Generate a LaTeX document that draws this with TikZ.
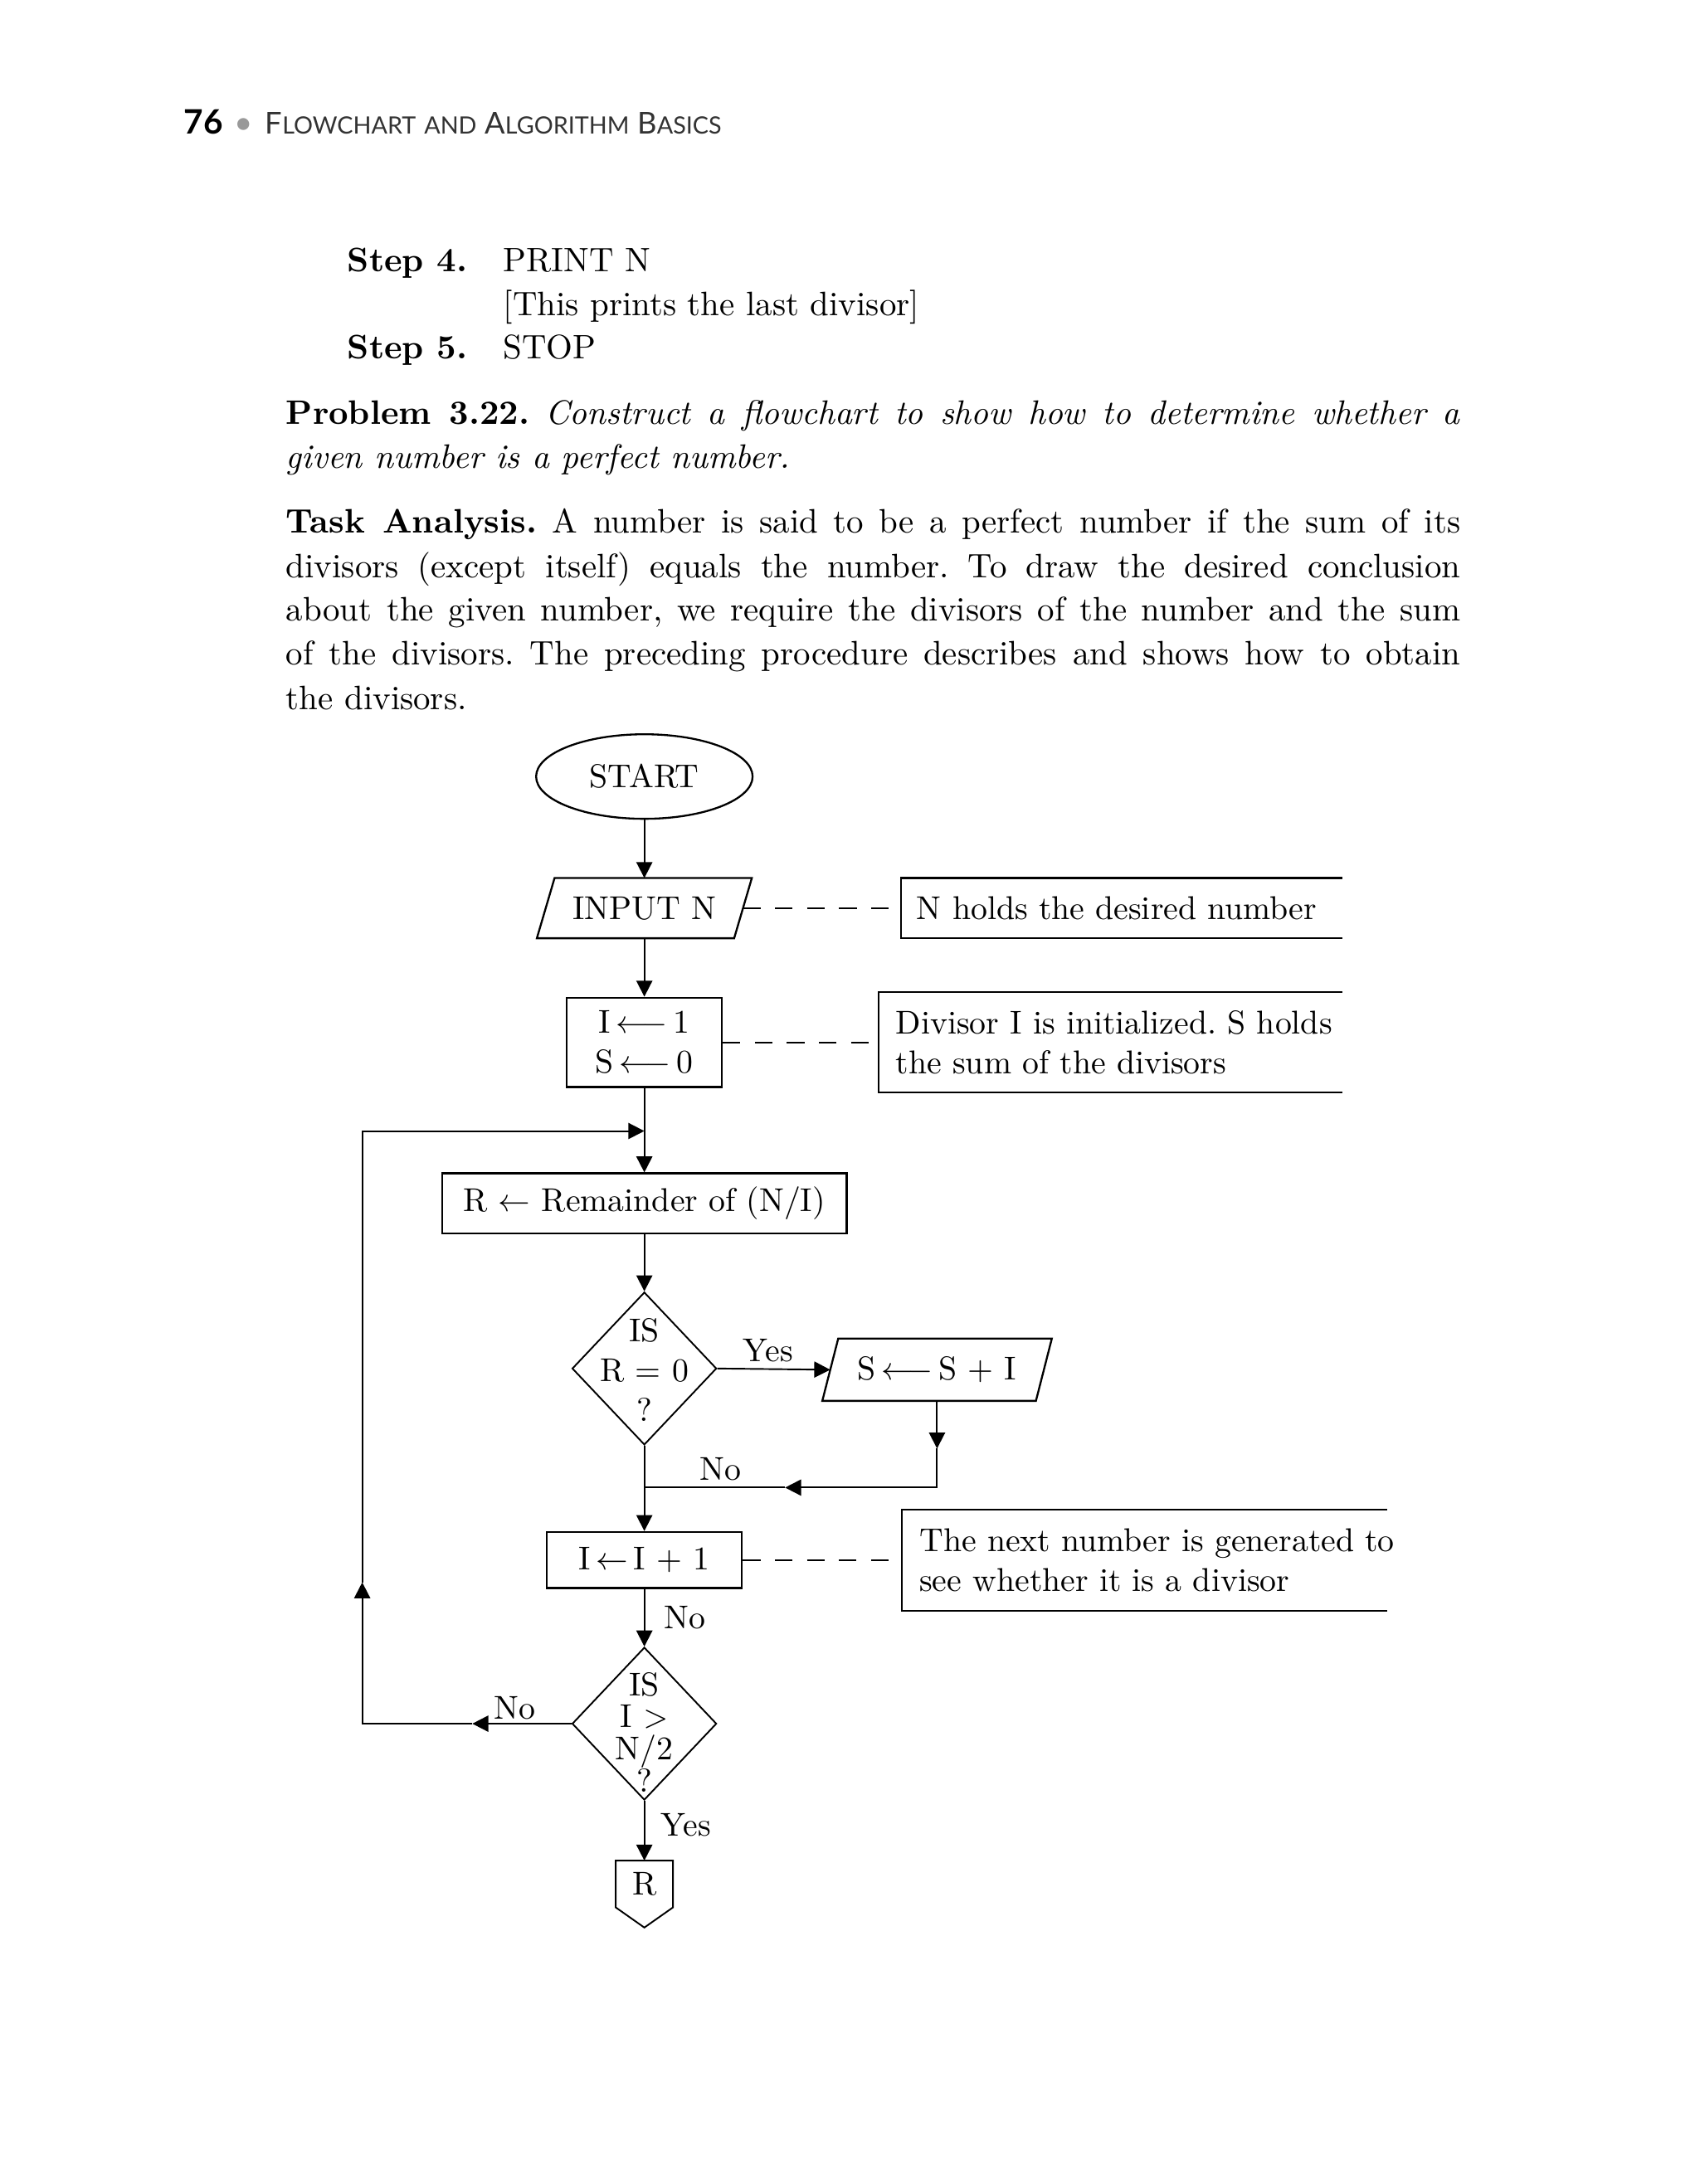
\documentclass[tikz,border=0pt]{standalone}
\usepackage{fontspec}
\newfontfamily\headfont{Lato}
\usetikzlibrary{shapes.geometric,arrows.meta}

\tikzset{
  flow/.style={font=\fontsize{10.3}{12.5}\selectfont},
  body/.style={font=\fontsize{10.6}{13.7}\selectfont, inner sep=0pt, anchor=base west},
  box/.style={draw, line width=0.6pt, inner sep=0pt, flow},
  arr/.style={-{Triangle[length=5pt,width=5pt]}, line width=0.5pt},
  link/.style={line width=0.5pt},
  note/.style={dash pattern=on 5.5pt off 4.5pt, line width=0.5pt},
  lbl/.style={flow, inner sep=0pt}
}
\newcommand{\fullline}[1]{\makebox[366.7pt][s]{#1}}
\newcommand{\headsc}[2]{{\fontsize{9.4}{11}\selectfont #1}{\fontsize{7.45}{9}\selectfont #2}}

\begin{document}
\frenchspacing
\begin{tikzpicture}[x=0.435pt, y=-0.435pt]
    \useasboundingbox (0,0) rectangle (1220,1568);
    \fill[white] (0,0) rectangle (1220,1568);

    % Running head
    \node[body, font=\headfont\bfseries\fontsize{10.5}{12}\selectfont] (pagenum) at (131.6,96.2) {76};
    \node[anchor=base, inner sep=0pt, text=black!40, font=\headfont\fontsize{10}{12}\selectfont] (headdot) at (174.7,96.2) {\textbullet};
    \node[anchor=base west, inner sep=0pt, text=black!80, font=\headfont] (runhead) at (190,96.2)
        {\headsc{F}{LOWCHART} \headsc{}{AND} \headsc{A}{LGORITHM} \headsc{B}{ASICS}};

    % Steps
    \node[body] (step4) at (249,195.1) {\textbf{Step 4.}};
    \node[body] (print) at (360.8,195.1) {PRINT N};
    \node[body] (printnote) at (360.8,226.4) {[This prints the last divisor]};
    \node[body] (step5) at (249,257.6) {\textbf{Step 5.}};
    \node[body] (stop) at (360.8,257.6) {STOP};

    % Problem
    \node[body] (prob1) at (204.9,304.7) {\fullline{\textbf{Problem 3.22.} \textit{Construct a flowchart to show how to determine whether a}}};
    \node[body] (prob2) at (204.9,336) {\textit{given number is a perfect number.}};

    % Task analysis
    \node[body] (task1) at (204.9,382.7) {\fullline{\textbf{Task Analysis.} A number is said to be a perfect number if the sum of its}};
    \node[body] (task2) at (204.9,414.6) {\fullline{divisors (except itself) equals the number. To draw the desired conclusion}};
    \node[body] (task3) at (204.9,445.9) {\fullline{about the given number, we require the divisors of the number and the sum}};
    \node[body] (task4) at (204.9,477.2) {\fullline{of the divisors. The preceding procedure describes and shows how to obtain}};
    \node[body] (task5) at (204.9,509.3) {the divisors.};

    % Flowchart boxes
    \node[box, ellipse, minimum width=67.6pt, minimum height=26.4pt] (start) at (462.5,557.5) {START};
    \node[flow, inner sep=0pt, minimum width=61.2pt, minimum height=18.4pt] (input) at (462.5,652) {INPUT N};
    \draw[line width=0.6pt] ([xshift=2.76pt]input.north west) -- ([xshift=2.76pt]input.north east)
        -- ([xshift=-2.76pt]input.south east) -- ([xshift=-2.76pt]input.south west) -- cycle;
    \node[box, align=center, minimum width=48.4pt, minimum height=27.9pt] (init) at (462.5,748.3)
        {I\,$\longleftarrow$\,1\\ S\,$\longleftarrow$\,0};
    \node[box, minimum width=126.3pt, minimum height=18.8pt] (rem) at (462.5,864) {R $\leftarrow$ Remainder of (N/I)};
    \node[draw, diamond, line width=0.5pt, inner sep=0pt, minimum width=45.1pt, minimum height=47.7pt] (test0) at (462.5,982.5) {};
    \node[flow, align=center, inner sep=0pt] (test0txt) at (462.5,983.5) {IS\\ R = 0\\ ?};
    \node[flow, inner sep=0pt, minimum width=66.3pt, minimum height=19.05pt] (addsum) at (672.6,983.4) {S\,$\longleftarrow$\,S + I};
    \draw[line width=0.6pt] ([xshift=2.48pt]addsum.north west) -- ([xshift=2.48pt]addsum.north east)
        -- ([xshift=-2.48pt]addsum.south east) -- ([xshift=-2.48pt]addsum.south west) -- cycle;
    \node[box, minimum width=60.9pt, minimum height=17.5pt] (incr) at (462.5,1120) {I\,$\leftarrow$\,I + 1};
    \node[draw, diamond, line width=0.5pt, inner sep=0pt, minimum width=45.1pt, minimum height=47.7pt] (test1) at (462.5,1237.5) {};
    \node[align=center, inner sep=0pt, font=\fontsize{10.3}{10}\selectfont] (test1txt) at (462.5,1243.5) {IS\\ I $>$\\ N/2\\ ?};
    \node[flow, inner sep=0pt, minimum width=17.5pt, minimum height=14.2pt] (connR) at (462.5,1352.6) {R};
    \draw[line width=0.5pt] (connR.south west) -- (connR.north west) -- (connR.north east)
        -- (connR.south east) -- ([yshift=-6.3pt]connR.south) -- cycle;

    % Comment boxes (open on the right)
    \node[inner sep=0pt, minimum width=137.3pt, minimum height=18.4pt] (note1) at (805.15,652) {};
    \draw[line width=0.6pt] (note1.north east) -- (note1.north west) -- (note1.south west) -- (note1.south east);
    \node[flow, anchor=west, inner sep=0pt] (note1txt) at ([xshift=4.65pt]note1.west) {N holds the desired number};
    \node[inner sep=0pt, minimum width=144.3pt, minimum height=30.9pt] (note2) at (797.15,748.3) {};
    \draw[line width=0.6pt] (note2.north east) -- (note2.north west) -- (note2.south west) -- (note2.south east);
    \node[flow, anchor=west, align=left, inner sep=0pt] (note2txt) at ([xshift=5.1pt]note2.west)
        {Divisor I is initialized. S holds\\ the sum of the divisors};
    \node[inner sep=0pt, minimum width=151pt, minimum height=31.2pt] (note3) at (821.4,1120) {};
    \draw[line width=0.6pt] (note3.north east) -- (note3.north west) -- (note3.south west) -- (note3.south east);
    \node[flow, anchor=west, align=left, inner sep=0pt] (note3txt) at ([xshift=5.3pt]note3.west)
        {The next number is generated to\\ see whether it is a divisor};

    % Connector points
    \coordinate (join) at (462.5,812);
    \coordinate (looptop) at (260,812);
    \coordinate (uparr) at (260,1136);
    \coordinate (loopbot) at (260,1237.5);
    \coordinate (noarr) at (339,1237.5);
    \coordinate (sdown) at (672.6,1040);
    \coordinate (sret) at (672.6,1068);
    \coordinate (leftarr) at (563.5,1068);
    \coordinate (merge) at (462.5,1068);

    % Flow lines
    \draw[arr] (start) -- (input);
    \draw[arr] (input) -- (init);
    \draw[arr] (init) -- (rem);
    \draw[arr] (rem) -- (test0);
    \draw[arr] (test0.east) -- (addsum.west) node[lbl, pos=0.45, above=2pt] {Yes};
    \draw[arr] (addsum.south) -- (sdown);
    \draw[arr] (sdown) -- (sret) -- (leftarr);
    \draw[link] (leftarr) -- (merge) node[lbl, pos=0.46, above=2pt] {No};
    \draw[arr] (test0.south) -- (incr.north);
    \draw[arr] (incr) -- (test1) node[lbl, midway, right=6pt] {No};
    \draw[arr] (test1.south) -- (connR.north) node[lbl, pos=0.4, right=5pt] {Yes};
    \draw[arr] (test1.west) -- (noarr) node[lbl, pos=0.57, above=1pt] {No};
    \draw[arr] (noarr) -- (loopbot) -- (uparr);
    \draw[arr] (uparr) -- (looptop) -- (join);

    % Dashed links to the comments
    \draw[note] (input.east) -- (note1.west);
    \draw[note] (init.east) -- (note2.west);
    \draw[note] (incr.east) -- (note3.west);
\end{tikzpicture}
\end{document}
